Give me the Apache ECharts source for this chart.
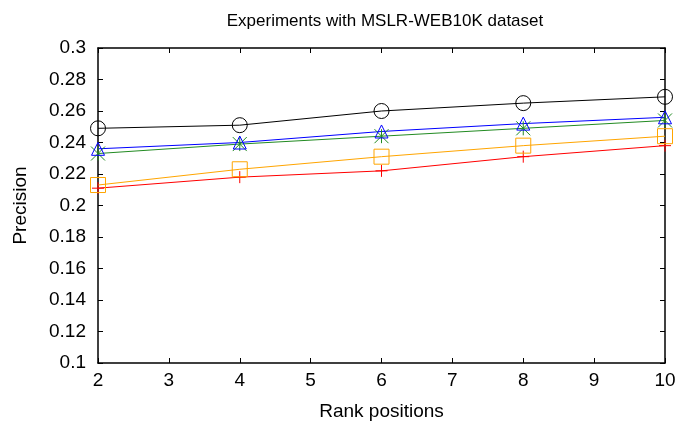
<!DOCTYPE html>
<html>
<head>
<meta charset="utf-8">
<script src="https://cdn.jsdelivr.net/npm/echarts@6/dist/echarts.min.js"></script>
<style>
  html, body { margin: 0; padding: 0; background: #fff; }
  #chart { width: 700px; height: 429px; }
</style>
</head>
<body>
<div id="chart"></div>
<script>
const ranks = [2, 4, 6, 8, 10];
const circleVals = [0.249, 0.251, 0.260, 0.265, 0.269];
const triangleVals = [0.236, 0.240, 0.247, 0.252, 0.256];
const starVals = [0.233, 0.239, 0.244, 0.249, 0.254];
const squareVals = [0.213, 0.223, 0.231, 0.238, 0.244];
const plusVals = [0.211, 0.218, 0.222, 0.231, 0.238];

const font = 'Liberation Sans, Arial, sans-serif';

// marker shapes, stroked only
const plusPath = 'path://M0,5L10,5M5,0L5,10';
const starPath = 'path://M0,0L10,10M10,0L0,10M5,0L5,10';
const trianglePath = 'path://M5,0L10,9L0,9Z';
const squarePath = 'path://M0,0L10,0L10,10L0,10Z';

function pairs(vals) {
  return ranks.map((r, i) => [r, vals[i]]);
}

function makeSeries(vals, color, symbol, size) {
  return {
    type: 'line',
    data: pairs(vals),
    symbol,
    symbolSize: size,
    showAllSymbol: true,
    lineStyle: { color, width: 1 },
    itemStyle: { color: 'rgba(0,0,0,0)', borderColor: color, borderWidth: 1 },
    emphasis: { disabled: true },
    animation: false,
    z: 3
  };
}

const axisBase = {
  axisLine: { show: true, onZero: false, lineStyle: { color: '#000', width: 1.5 } },
  axisTick: { show: true, inside: true, length: 5, lineStyle: { color: '#000' } },
  splitLine: { show: false }
};

const option = {
  backgroundColor: '#fff',
  animation: false,
  title: {
    text: 'Experiments with MSLR-WEB10K dataset',
    left: 380,
    textAlign: 'center',
    top: 8,
    textStyle: { fontFamily: font, fontSize: 17, fontWeight: 'normal', color: '#000' }
  },
  grid: { left: 98, right: 35, top: 48, bottom: 66 },
  xAxis: [{
    ...axisBase,
    type: 'value',
    min: 2,
    max: 10,
    interval: 1,
    name: 'Rank positions',
    nameLocation: 'middle',
    nameGap: 39,
    nameTextStyle: { fontFamily: font, fontSize: 19, color: '#000' },
    axisLabel: { fontFamily: font, fontSize: 19, color: '#000', margin: 8 }
  }, {
    ...axisBase,
    type: 'value',
    position: 'top',
    min: 2,
    max: 10,
    interval: 1,
    axisLabel: { show: false }
  }],
  yAxis: [{
    ...axisBase,
    type: 'value',
    min: 0.1,
    max: 0.3,
    interval: 0.02,
    name: 'Precision',
    nameLocation: 'middle',
    nameGap: 68,
    nameRotate: 90,
    nameTextStyle: { fontFamily: font, fontSize: 19, color: '#000' },
    axisLabel: {
      fontFamily: font, fontSize: 19, color: '#000', margin: 12,
      formatter: v => String(parseFloat(v.toFixed(2)))
    }
  }, {
    ...axisBase,
    type: 'value',
    position: 'right',
    min: 0.1,
    max: 0.3,
    interval: 0.02,
    axisLabel: { show: false }
  }],
  series: [
    makeSeries(plusVals, '#ff0000', plusPath, 12),
    makeSeries(squareVals, '#ffa500', squarePath, 15),
    makeSeries(starVals, '#228b22', starPath, 14),
    makeSeries(triangleVals, '#0000ff', trianglePath, 13),
    makeSeries(circleVals, '#000000', 'circle', 15)
  ]
};

const chart = echarts.init(document.getElementById('chart'));
chart.setOption(option);
</script>
</body>
</html>
